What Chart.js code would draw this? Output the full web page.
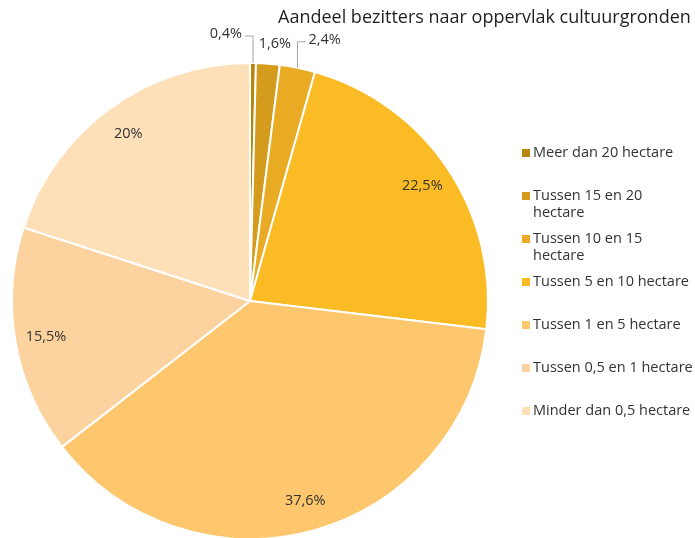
<!DOCTYPE html>
<html>
<head>
<meta charset="utf-8">
<script src="https://cdn.jsdelivr.net/npm/chart.js@4.4.0/dist/chart.umd.min.js"></script>
<style>
  html, body { margin: 0; padding: 0; background: #fff; overflow: hidden; }
  #wrap { position: relative; width: 695px; height: 542px; }
</style>
</head>
<body>
<div id="wrap"><canvas id="pie"></canvas></div>
<script>
// ==== Data ====
const chartTitle = "Aandeel bezitters naar oppervlak cultuurgronden";
const categories = [
  "Meer dan 20 hectare",
  "Tussen 15 en 20 hectare",
  "Tussen 10 en 15 hectare",
  "Tussen 5 en 10 hectare",
  "Tussen 1 en 5 hectare",
  "Tussen 0,5 en 1 hectare",
  "Minder dan 0,5 hectare"
];
const legendLines = [
  ["Meer dan 20 hectare"],
  ["Tussen 15 en 20", "hectare"],
  ["Tussen 10 en 15", "hectare"],
  ["Tussen 5 en 10 hectare"],
  ["Tussen 1 en 5 hectare"],
  ["Tussen 0,5 en 1 hectare"],
  ["Minder dan 0,5 hectare"]
];
const shares = [0.4, 1.6, 2.4, 22.5, 37.6, 15.5, 20];
const sliceColors = ["#b5870f", "#d49b1c", "#e9ab24", "#fbbb25", "#fec76e", "#fcd39e", "#fddfb8"];

const FONT = '"Open Sans", sans-serif';
const TEXT = "#333333";
const labelText = shares.map(v => String(v).replace(".", ",") + "%");

// small slices get their label outside, with a leader line
// elbow dy, end dx and text align relative to the slice's outer mid point
const outside = {
  0: { up: -27, side: -8, align: "right" },
  1: { up: -20, side: 7, align: "center", noLine: true },
  2: { up: -26, side: 8, align: "left" }
};

// ==== Plugins ====
const pieLabels = {
  id: "pieLabels",
  afterDatasetsDraw(chart) {
    const ctx = chart.ctx;
    const meta = chart.getDatasetMeta(0);
    ctx.save();
    ctx.font = `14.5px ${FONT}`;
    ctx.fillStyle = TEXT;
    ctx.textBaseline = "middle";
    meta.data.forEach((arc, i) => {
      const mid = (arc.startAngle + arc.endAngle) / 2;
      const r = arc.outerRadius;
      const o = outside[i];
      if (!o) {
        ctx.textAlign = "center";
        ctx.fillText(labelText[i], arc.x + Math.cos(mid) * r * 0.87, arc.y + Math.sin(mid) * r * 0.87);
        return;
      }
      const ax = arc.x + Math.cos(mid) * r;
      const ay = arc.y + Math.sin(mid) * r;
      const ey = ay + o.up;
      if (!o.noLine) {
        ctx.strokeStyle = "#a6a6a6";
        ctx.lineWidth = 1;
        ctx.beginPath();
        ctx.moveTo(ax, ay);
        ctx.lineTo(ax, ey);
        ctx.lineTo(ax + o.side, ey);
        ctx.stroke();
        ctx.textAlign = o.align;
        ctx.fillText(labelText[i], ax + o.side + (o.side < 0 ? -3 : 3), ey - 2);
      } else {
        ctx.textAlign = "center";
        ctx.fillText(labelText[i], ax + o.side, ey);
      }
    });
    ctx.restore();
  }
};

const sideLegend = {
  id: "sideLegend",
  afterDraw(chart) {
    const ctx = chart.ctx;
    ctx.save();
    // title
    ctx.font = `18px ${FONT}`;
    ctx.fillStyle = "#1f1f1f";
    ctx.textAlign = "left";
    ctx.textBaseline = "middle";
    ctx.fillText(chartTitle, 278, 18);
    // legend
    ctx.font = `14.5px ${FONT}`;
    legendLines.forEach((lines, i) => {
      const y = 153 + i * 43;
      ctx.fillStyle = sliceColors[i];
      ctx.fillRect(522, y - 4, 8, 8);
      ctx.fillStyle = TEXT;
      lines.forEach((line, j) => ctx.fillText(line, 533, y + j * 17));
    });
    ctx.restore();
  }
};

// ==== Chart ====
new Chart(document.getElementById("pie"), {
  type: "pie",
  data: {
    labels: categories,
    datasets: [{
      data: shares,
      backgroundColor: sliceColors,
      borderColor: "#ffffff",
      borderWidth: 2
    }]
  },
  options: {
    responsive: true,
    maintainAspectRatio: false,
    animation: false,
    layout: { padding: { left: 11, top: 62, right: 206, bottom: 2 } },
    plugins: {
      legend: { display: false },
      tooltip: { enabled: false }
    }
  },
  plugins: [pieLabels, sideLegend]
});
</script>
</body>
</html>
